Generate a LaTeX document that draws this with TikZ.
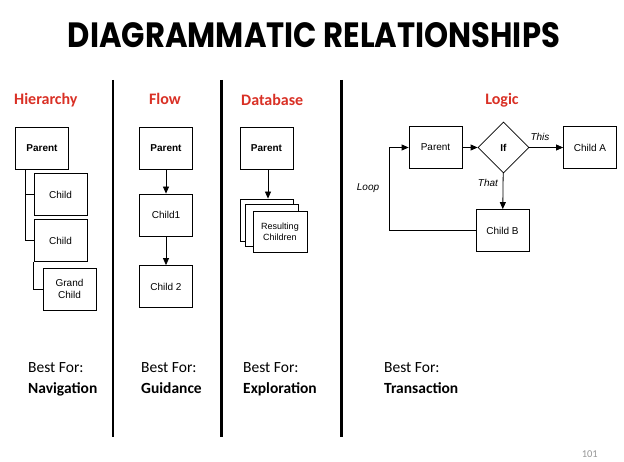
\documentclass[tikz,border=0pt]{standalone}
\usepackage{fontspec}
\usepackage{graphicx}
\setmainfont{Liberation Sans}
\newfontfamily\calib{Carlito}
\newfontfamily\titlefont{Poppins}
\usetikzlibrary{arrows.meta,shapes.geometric,calc}
\definecolor{hdred}{RGB}{217,48,37}
\definecolor{pgnum}{RGB}{150,150,150}
\begin{document}
\begin{tikzpicture}[x=1pt,y=-1pt,
  box/.style={draw, fill=white, line width=0.8pt, minimum width=53pt, minimum height=42pt, inner sep=0pt, font=\fontsize{10}{12}\selectfont, align=center},
  hdr/.style={font=\calib\bfseries\fontsize{16}{19}\selectfont, text=hdred, inner sep=0pt},
  lbl/.style={font=\itshape\fontsize{10}{12}\selectfont, inner sep=0pt},
  bf/.style={font=\calib\fontsize{15.5}{18}\selectfont, inner sep=0pt, anchor=base west},
  bfb/.style={font=\calib\bfseries\fontsize{15.5}{18}\selectfont, inner sep=0pt, anchor=base west},
  arr/.style={line width=0.8pt, -{Triangle[length=7pt,width=6pt]}},
  ln/.style={line width=0.8pt},
  sepline/.style={line width=2.8pt}]
\useasboundingbox (0,0) rectangle (624,462);

% title
\node[inner sep=0pt] (title) at (314,35.5) {\resizebox{492pt}{25pt}{\titlefont\bfseries DIAGRAMMATIC RELATIONSHIPS}};

% separators
\draw[sepline] (113,80) -- (113,437);
\draw[sepline] (221.5,80) -- (221.5,437);
\draw[sepline] (341.5,80) -- (341.5,437);

% headers
\node[hdr, anchor=base west] (hh) at (14,105) {Hierarchy};
\node[hdr, anchor=base] (hf) at (165,105) {Flow};
\node[hdr, anchor=base west] (hd) at (241,106) {Database};
\node[hdr, anchor=base] (hl) at (502,105) {Logic};

% Hierarchy
\node[box, font=\bfseries\fontsize{10}{12}\selectfont] (hp) at (42,148) {Parent};
\node[box] (hc1) at (60.5,194.5) {Child};
\node[box] (hc2) at (60.5,240.5) {Child};
\node[box, font=\fontsize{10}{11.5}\selectfont] (hgc) at (69.5,289) {Grand\\Child};
\draw[ln] ([xshift=10pt]hp.south west) |- (hc1.west);
\draw[ln] ([xshift=10pt]hp.south west) |- (hc2.west);
\draw[ln] (hc2.south west) |- (hgc.west);

% Flow
\node[box, font=\bfseries\fontsize{10}{12}\selectfont] (fp) at (166,148.5) {Parent};
\node[box] (fc1) at (166,215) {Child1};
\node[box] (fc2) at (166,286.5) {Child 2};
\draw[arr] (fp) -- (fc1);
\draw[arr] (fc1) -- (fc2);

% Database
\node[box, font=\bfseries\fontsize{10}{12}\selectfont] (dp) at (266.5,148) {Parent};
\node[box] (db1) at (266.5,220) {};
\node[box] (db2) at (272,225) {};
\node[box, minimum width=54pt, minimum height=41pt, font=\fontsize{9}{11}\selectfont] (db3) at (280,231.5) {Resulting\\Children};
\draw[arr] ([xshift=1.5pt]dp.south) -- ([xshift=1.5pt]db1.north);

% Logic
\node[box] (lp) at (435.5,147.5) {Parent};
\node[draw, fill=white, diamond, line width=0.8pt, minimum width=51pt, minimum height=51pt, inner sep=0pt, font=\bfseries\fontsize{10}{12}\selectfont] (lif) at (503.5,147.5) {If};
\node[box] (lca) at (590,147.5) {Child A};
\node[box] (lcb) at (502.5,230.5) {Child B};
\draw[arr] (lp) -- (lif);
\draw[arr] (lif) -- (lca);
\draw[arr] (lif) -- (lcb);
\coordinate (lpt) at (389,147.5);
\draw[arr] (lcb.west) -| (lpt) -- (lp.west);
\node[lbl] (lthis) at (540,137) {This};
\node[lbl] (lthat) at (488,183) {That};
\node[lbl] (lloop) at (368,188) {Loop};

% Best for
\node[bf] (b1) at (28,373) {Best For:};
\node[bfb] (n1) at (28,393) {Navigation};
\node[bf] (b2) at (141,373) {Best For:};
\node[bfb] (n2) at (141,393) {Guidance};
\node[bf] (b3) at (243,373) {Best For:};
\node[bfb] (n3) at (243,393) {Exploration};
\node[bf] (b4) at (384,373) {Best For:};
\node[bfb] (n4) at (384,393) {Transaction};

\node[font=\calib\fontsize{10.5}{12}\selectfont, text=pgnum, inner sep=0pt, anchor=base east] (pg) at (598,457) {101};
\end{tikzpicture}
\end{document}
